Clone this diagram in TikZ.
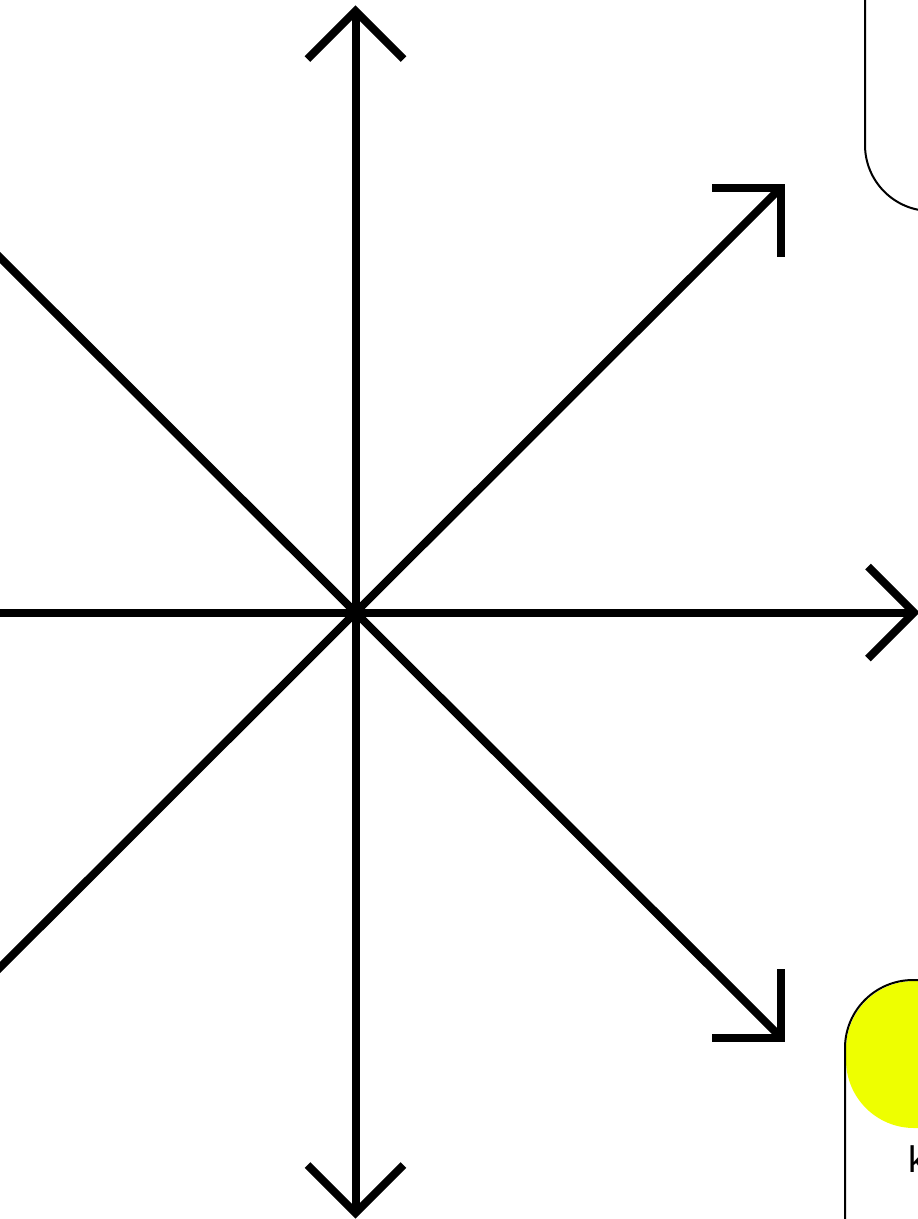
\documentclass[tikz,border=0pt]{standalone}
\usepackage{fontspec}
\setmainfont{Liberation Sans}
\definecolor{hlyellow}{RGB}{238,255,0}
\begin{document}
\begin{tikzpicture}[x=1pt,y=-1pt,
  axis/.style={line width=8pt, line cap=butt},
  tip/.style={line width=8pt, line join=miter, miter limit=10},
  frame/.style={line width=2pt, rounded corners=66pt}]
\useasboundingbox (0,0) rectangle (918,1219);
\clip (0,0) rectangle (918,1219);
% frames on the right
\draw[frame] (865,-100) rectangle (1100,211);
\fill[hlyellow, rounded corners=68pt] (846,981) rectangle (1100,1128);
\draw[frame, rounded corners=68pt] (845,980) rectangle (1100,1300);
\node[anchor=base west, inner sep=0pt, font=\fontsize{37}{40}\selectfont] (klabel) at (908,1172) {k};
% coordinates
\coordinate (c) at (355.5,612.5);
\coordinate (n) at (355.5,11);
\coordinate (s) at (355.5,1213);
\coordinate (e) at (914,612.5);
\coordinate (w) at (0,612.5);
\coordinate (ne) at (781,187.5);
\coordinate (se) at (781,1037.5);
\coordinate (nw) at (-20,237.5);
\coordinate (sw) at (-20,987.5);
% axes
\draw[axis] (c) -- (n);
\draw[axis] (c) -- (s);
\draw[axis] (c) -- (e);
\draw[axis] (c) -- (w);
\draw[axis] (c) -- (ne);
\draw[axis] (c) -- (se);
\draw[axis] (c) -- (nw);
\draw[axis] (c) -- (sw);
% arrow heads
\draw[tip] ([shift={(-48,48)}]n) -- (n) -- ([shift={(48,48)}]n);
\draw[tip] ([shift={(-48,-48)}]s) -- (s) -- ([shift={(48,-48)}]s);
\draw[tip] ([shift={(-46,-46)}]e) -- (e) -- ([shift={(-46,46)}]e);
\draw[tip] ([shift={(-69,0)}]ne) -- (ne) -- ([shift={(0,69)}]ne);
\draw[tip] ([shift={(-69,0)}]se) -- (se) -- ([shift={(0,-69)}]se);
\end{tikzpicture}
\end{document}
